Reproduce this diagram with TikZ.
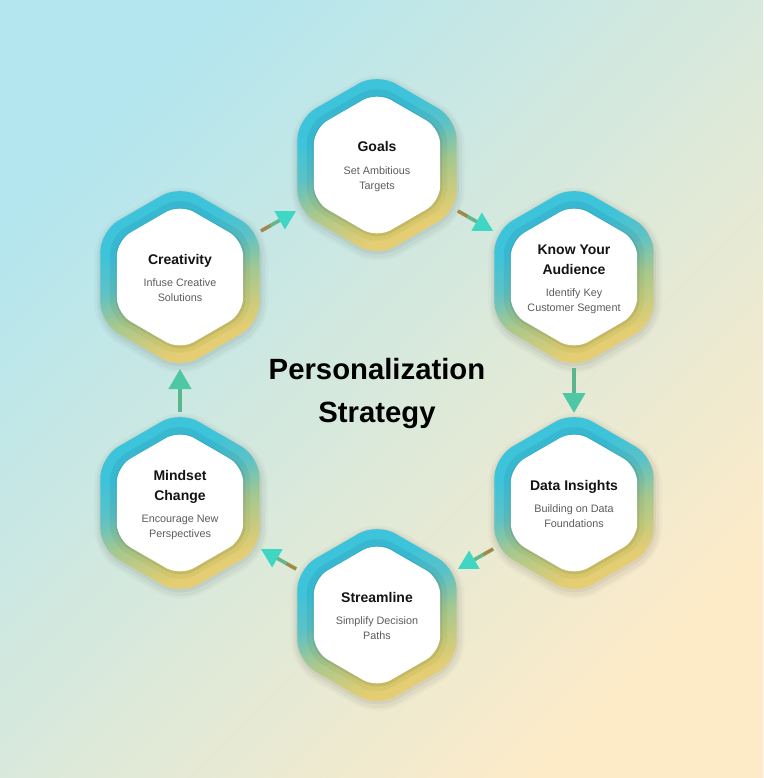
\documentclass[tikz,border=0pt]{standalone}
\usepackage{fontspec}
\setmainfont{Liberation Sans}
\usetikzlibrary{arrows.meta,calc}
\definecolor{bgA}{HTML}{B3E6EF}
\definecolor{bgM}{HTML}{CCE8E2}
\definecolor{bgB}{HTML}{FDEBC8}
\definecolor{hexA}{HTML}{3DC3DA}
\definecolor{hexM}{HTML}{5CC2C6}
\definecolor{hexG}{HTML}{A6C88E}
\definecolor{hexB}{HTML}{E4CD72}
\definecolor{midA}{HTML}{37B7CF}
\definecolor{midM}{HTML}{55B7BA}
\definecolor{midG}{HTML}{9CBE86}
\definecolor{midB}{HTML}{D6C66A}
\definecolor{subgray}{HTML}{5C5C5C}
\definecolor{olivec}{HTML}{A08A48}
\definecolor{greenc}{HTML}{66B68C}
\definecolor{tealtip}{HTML}{40D6C4}
\definecolor{vshaft}{HTML}{5DB58C}
\definecolor{vtip}{HTML}{4DC7A4}
\pgfdeclareverticalshading{hexgrad}{100bp}{color(0bp)=(hexB); color(30bp)=(hexB); color(44bp)=(hexG); color(54bp)=(hexM); color(64bp)=(hexA); color(100bp)=(hexA)}
\pgfdeclareverticalshading{midgrad}{100bp}{color(0bp)=(midB); color(30bp)=(midB); color(44bp)=(midG); color(54bp)=(midM); color(64bp)=(midA); color(100bp)=(midA)}
\newcommand{\hexfill}[4]{%
  \path[shift={(#1)}, rounded corners=#3, #4]
    ({0.4330127*#2},{-0.75*#2}) -- ({0.8660254*#2},{-0.5*#2}) -- ({0.8660254*#2},{0.5*#2})
    -- (0,#2) -- ({-0.8660254*#2},{0.5*#2}) -- ({-0.8660254*#2},{-0.5*#2}) -- (0,-#2) -- cycle;}
\newcommand{\hexbox}[1]{%
  \hexfill{#1}{100}{26pt}{fill=black, opacity=0.025, shift={(1,3)}}
  \hexfill{#1}{97}{24pt}{fill=black, opacity=0.035, shift={(1,3)}}
  \hexfill{#1}{94}{23pt}{fill=black, opacity=0.045, shift={(0.5,2)}}
  \hexfill{#1}{92}{21pt}{shading=hexgrad, shading angle=22}
  \hexfill{#1}{81}{18pt}{shading=midgrad, shading angle=22, opacity=0.85}
  \hexfill{#1}{75}{16pt}{fill=black, opacity=0.07, shift={(0.5,1)}}
  \hexfill{#1}{73}{16pt}{fill=white}}
\begin{document}
\begin{tikzpicture}[x=1pt,y=-1pt,
  ttl/.style={font=\fontsize{14}{16}\selectfont\bfseries, text=black!92, inner sep=0pt, anchor=base},
  sub/.style={font=\fontsize{10.8}{13}\selectfont, text=subgray, inner sep=0pt, anchor=base},
  big/.style={font=\fontsize{29.3}{32}\selectfont\bfseries, text=black, inner sep=0pt, anchor=base},
  dshaft/.style={line width=3.6pt, olivec},
  darrow/.style={line width=3.6pt, greenc, -{Triangle[length=19pt,width=20pt,color=tealtip]}},
  varrow/.style={line width=4.2pt, vshaft, -{Triangle[length=20pt,width=22pt,color=vtip]}}]
\useasboundingbox (0,0) rectangle (763,778);
\shade[top color=bgA, middle color=bgM, bottom color=bgB, shading angle=45] (0,0) rectangle (763,778);

\coordinate (goals) at (377,165);
\coordinate (kya) at (574,277);
\coordinate (data) at (574,503);
\coordinate (stream) at (377,615);
\coordinate (mind) at (180,503);
\coordinate (creat) at (180,277);

\hexbox{goals}
\hexbox{kya}
\hexbox{data}
\hexbox{stream}
\hexbox{mind}
\hexbox{creat}

% arrows
\draw[dshaft, shorten <=93pt, shorten >=122pt] (creat) -- (goals);
\draw[darrow, shorten <=104pt, shorten >=93pt] (creat) -- (goals);
\draw[dshaft, shorten <=93pt, shorten >=122pt] (goals) -- (kya);
\draw[darrow, shorten <=104pt, shorten >=93pt] (goals) -- (kya);
\draw[varrow, shorten <=91pt, shorten >=90pt] (kya) -- (data);
\draw[dshaft, shorten <=93pt, shorten >=122pt] (data) -- (stream);
\draw[darrow, shorten <=104pt, shorten >=93pt] (data) -- (stream);
\draw[dshaft, shorten <=93pt, shorten >=122pt] (stream) -- (mind);
\draw[darrow, shorten <=104pt, shorten >=93pt] (stream) -- (mind);
\draw[varrow, shorten <=91pt, shorten >=92pt] (mind) -- (creat);

% texts
\node[ttl] (goalsT) at ($(goals)+(0,-13)$) {Goals};
\node[sub] (goalsS1) at ($(goals)+(0,9.5)$) {Set Ambitious};
\node[sub] (goalsS2) at ($(goals)+(0,24.5)$) {Targets};

\node[ttl] (kyaT1) at ($(kya)+(0,-23)$) {Know Your};
\node[ttl] (kyaT2) at ($(kya)+(0,-3)$) {Audience};
\node[sub] (kyaS1) at ($(kya)+(0,19.5)$) {Identify Key};
\node[sub] (kyaS2) at ($(kya)+(0,34.5)$) {Customer Segment};

\node[ttl] (dataT) at ($(data)+(0,-13)$) {Data Insights};
\node[sub] (dataS1) at ($(data)+(0,9.5)$) {Building on Data};
\node[sub] (dataS2) at ($(data)+(0,24.5)$) {Foundations};

\node[ttl] (streamT) at ($(stream)+(0,-13)$) {Streamline};
\node[sub] (streamS1) at ($(stream)+(0,9.5)$) {Simplify Decision};
\node[sub] (streamS2) at ($(stream)+(0,24.5)$) {Paths};

\node[ttl] (mindT1) at ($(mind)+(0,-23)$) {Mindset};
\node[ttl] (mindT2) at ($(mind)+(0,-3)$) {Change};
\node[sub] (mindS1) at ($(mind)+(0,19.5)$) {Encourage New};
\node[sub] (mindS2) at ($(mind)+(0,34.5)$) {Perspectives};

\node[ttl] (creatT) at ($(creat)+(0,-13)$) {Creativity};
\node[sub] (creatS1) at ($(creat)+(0,9.5)$) {Infuse Creative};
\node[sub] (creatS2) at ($(creat)+(0,24.5)$) {Solutions};

\node[big] (title1) at (377,379) {Personalization};
\node[big] (title2) at (377,422) {Strategy};
\end{tikzpicture}
\end{document}
